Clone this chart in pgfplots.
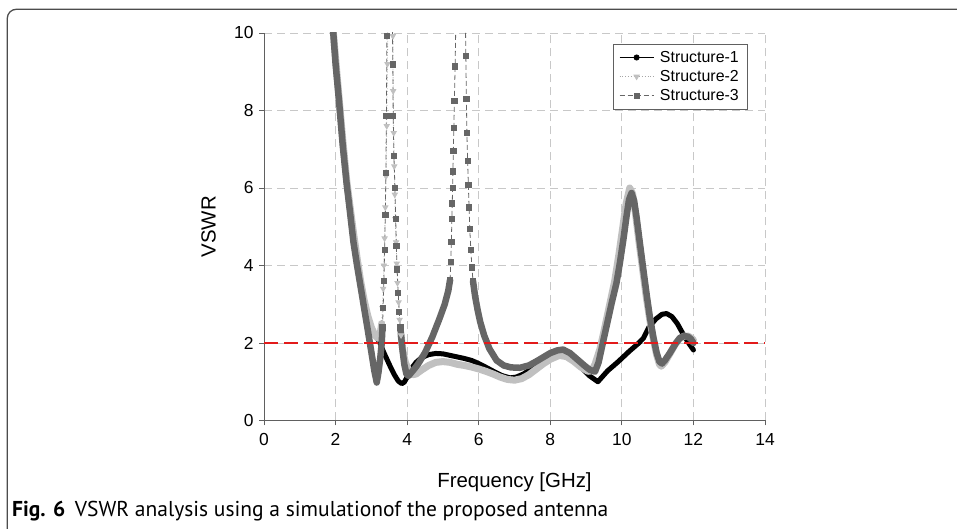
\documentclass[border=0pt]{standalone}
\usepackage{pgfplots}
\pgfplotsset{compat=1.18}
\usepackage{fontspec}
\setmainfont{Liberation Sans}
\newfontfamily\capfont{PT Sans}

\definecolor{dgray}{HTML}{666666}
\definecolor{lgray}{HTML}{C0C0C0}
\definecolor{axgray}{HTML}{606060}
\definecolor{gridgray}{HTML}{C8C8C8}
\definecolor{vred}{HTML}{E21B1B}

\begin{document}
\begin{tikzpicture}[x=1bp,y=1bp]
\useasboundingbox (0,0) rectangle (957,529);
\draw[line width=1.3bp, black!70, rounded corners=9bp] (7.3,-5) -- (7.3,519.7) -- (965,519.7);
\node[anchor=base west, inner sep=0pt] at (12,12)
  {\capfont\fontsize{21.6}{25}\selectfont\textbf{Fig. 6}\hspace{0.45em}VSWR analysis using a simulationof the proposed antenna};

\begin{axis}[
  at={(264bp,108.5bp)}, anchor=south west,
  scale only axis, width=501bp, height=387.5bp,
  xmin=0, xmax=14, ymin=0, ymax=10,
  xtick={0,2,...,14}, ytick={0,2,...,10},
  axis x line*=bottom, axis y line*=left,
  axis line style={axgray, line width=0.9bp},
  tick style={axgray, line width=0.9bp},
  tick align=outside, major tick length=5bp,
  xmajorgrids, ymajorgrids,
  major grid style={gridgray, line width=0.9bp, dash pattern=on 8bp off 5bp},
  ticklabel style={font=\fontsize{17.5}{19}\selectfont},
  xticklabel style={yshift=-4bp},
  yticklabel style={xshift=-2bp},
  /pgf/number format/assume math mode=true,
  xlabel={Frequency [GHz]}, ylabel={VSWR},
  label style={font=\fontsize{20.5}{24}\selectfont},
  xlabel style={at={(axis description cs:0.5,-0.1587)}, anchor=center},
  ylabel style={at={(axis description cs:-0.1108,0.5)}, anchor=center},
  legend style={at={(axis description cs:0.6966,0.9716)}, anchor=north west,
    draw=axgray, font=\fontsize{16}{18}\selectfont, row sep=2.5bp,
    inner xsep=6bp, inner ysep=5bp, column sep=4bp},
  legend cell align=left,
  legend image code/.code={\draw[mark repeat=2,mark phase=2,#1] plot coordinates {(0bp,0bp)(17bp,0bp)(34bp,0bp)};},
]
\addlegendimage{black, line width=0.8bp, mark=*, mark size=2.6bp}
\addlegendentry{Structure-1}
\addlegendimage{black!35, line width=0.8bp, dotted, mark=triangle*, mark size=3bp, mark options={solid, rotate=180, fill=lgray, draw=lgray}}
\addlegendentry{Structure-2}
\addlegendimage{dgray, line width=0.8bp, dash pattern=on 5bp off 3bp, mark=square*, mark size=2.6bp, mark options={solid, fill=dgray}}
\addlegendentry{Structure-3}

% Structure-1
\addplot[black, line width=5bp, line join=round, line cap=round, forget plot] coordinates {
(1.92,10.2)(2.00,9.3)(2.10,8.25)(2.20,7.15)(2.31,6.15)(2.40,5.45)(2.50,4.75)(2.60,4.1)
(2.70,3.55)(2.80,3.05)(2.93,2.6)(3.05,2.3)(3.15,2.15)(3.24,2.0)(3.35,1.75)(3.45,1.55)
(3.55,1.35)(3.65,1.17)(3.75,1.02)(3.85,0.95)(3.92,0.99)(4.00,1.12)(4.10,1.32)(4.25,1.5)
(4.40,1.62)(4.60,1.7)(4.80,1.73)(5.00,1.72)(5.20,1.68)(5.40,1.64)(5.60,1.6)(5.80,1.55)
(6.00,1.47)(6.23,1.36)(6.45,1.25)(6.65,1.16)(6.87,1.1)(7.05,1.12)(7.25,1.2)(7.45,1.32)
(7.65,1.45)(7.85,1.56)(8.05,1.65)(8.30,1.7)(8.50,1.65)(8.70,1.5)(8.90,1.33)(9.10,1.15)
(9.33,1.0)(9.60,1.28)(9.90,1.52)(10.20,1.78)(10.45,1.98)(10.60,2.12)(10.75,2.4)(10.95,2.62)
(11.12,2.74)(11.25,2.76)(11.40,2.68)(11.55,2.5)(11.70,2.25)(11.85,2.02)(12.00,1.82)
};

% Structure-2
\addplot[lgray, line width=7bp, line join=round, line cap=round, forget plot] coordinates {
(1.92,10.2)(2.00,9.35)(2.10,8.3)(2.20,7.25)(2.31,6.2)(2.40,5.55)(2.50,4.85)(2.60,4.2)
(2.70,3.6)(2.80,3.1)(2.90,2.7)(3.00,2.4)(3.10,2.2)(3.18,2.12)(3.24,2.2)(3.29,2.5)
};
\addplot[black!35, line width=0.8bp, dotted, mark=triangle*, mark size=3bp,
  mark options={solid, rotate=180, fill=lgray, draw=lgray}, forget plot] coordinates {
(3.29,2.5)(3.31,2.9)(3.33,3.4)(3.35,4.0)(3.37,4.7)(3.39,5.5)(3.41,6.3)(3.43,7.6)
(3.45,9.2)(3.47,11)(3.53,14)(3.59,11.2)(3.60,9.92)(3.61,8.5)(3.625,7.42)(3.64,6.56)
(3.655,5.83)(3.67,5.2)(3.69,4.6)(3.71,4.05)(3.73,3.55)(3.76,3.05)(3.79,2.6)(3.83,2.2)
};
\addplot[lgray, line width=7bp, line join=round, line cap=round, forget plot] coordinates {
(3.83,2.2)(3.88,1.8)(3.95,1.5)(4.05,1.28)(4.15,1.18)(4.25,1.2)(4.40,1.3)(4.60,1.42)
(4.80,1.5)(5.00,1.52)(5.20,1.5)(5.40,1.45)(5.60,1.42)(5.80,1.38)(6.00,1.33)(6.20,1.27)
(6.40,1.2)(6.60,1.12)(6.80,1.06)(7.00,1.04)(7.20,1.08)(7.40,1.18)(7.60,1.32)(7.80,1.46)
(8.00,1.58)(8.25,1.68)(8.45,1.65)(8.65,1.53)(8.85,1.38)(9.05,1.27)(9.15,1.28)(9.25,1.45)
(9.39,1.85)(9.50,2.3)(9.65,2.95)(9.80,3.6)(9.92,4.3)(10.02,4.95)(10.12,5.6)(10.22,6.0)
(10.30,5.85)(10.38,5.35)(10.48,4.6)(10.58,3.9)(10.68,3.2)(10.78,2.6)(10.88,2.1)(10.97,1.7)
(11.05,1.45)(11.10,1.4)(11.20,1.5)(11.34,1.72)(11.50,1.98)(11.62,2.12)(11.75,2.18)(11.85,2.18)
(11.95,2.12)(12.00,2.08)
};

% Structure-3
\addplot[dgray, line width=6.5bp, line join=round, line cap=round, forget plot] coordinates {
(1.92,10.2)(2.00,9.2)(2.10,8.2)(2.20,7.1)(2.31,6.1)(2.40,5.4)(2.50,4.6)(2.60,4.0)
(2.70,3.45)(2.78,3.0)(2.87,2.5)(2.95,2.05)(3.02,1.65)(3.08,1.3)(3.15,0.98)(3.20,1.25)
(3.25,1.62)(3.29,2.0)(3.31,2.4)
};
\addplot[dgray, line width=0.8bp, dash pattern=on 5bp off 3bp, mark=square*, mark size=2.6bp,
  mark options={solid, fill=dgray}, forget plot] coordinates {
(3.31,2.4)(3.33,2.9)(3.35,3.6)(3.37,4.4)(3.39,5.3)(3.405,6.39)(3.42,7.85)(3.435,9.92)
(3.45,12)(3.52,15)(3.58,11)(3.60,9.19)(3.61,7.85)(3.63,6.82)(3.66,6.0)(3.68,5.2)
(3.70,4.5)(3.72,3.9)(3.75,3.3)(3.78,2.8)(3.81,2.4)
};
\addplot[dgray, line width=6.5bp, line join=round, line cap=round, forget plot] coordinates {
(3.81,2.4)(3.86,1.9)(3.92,1.45)(3.98,1.2)(4.04,1.15)(4.10,1.22)(4.20,1.33)(4.30,1.45)
(4.50,1.75)(4.70,2.15)(4.90,2.62)(5.05,3.0)(5.15,3.35)(5.20,3.63)
};
\addplot[dgray, line width=0.8bp, dash pattern=on 5bp off 3bp, mark=square*, mark size=2.6bp,
  mark options={solid, fill=dgray}, forget plot] coordinates {
(5.20,3.63)(5.22,4.1)(5.235,4.6)(5.25,5.2)(5.26,5.6)(5.27,6.0)(5.28,6.43)(5.29,6.95)
(5.305,7.55)(5.32,8.24)(5.34,9.14)(5.36,10.2)(5.38,11.5)(5.50,16)(5.62,11)(5.64,9.4)
(5.655,8.3)(5.67,7.42)(5.69,6.69)(5.71,6.09)(5.73,5.5)(5.75,4.95)(5.78,4.4)(5.81,3.95)
(5.84,3.6)
};
\addplot[dgray, line width=6.5bp, line join=round, line cap=round, forget plot] coordinates {
(5.84,3.6)(5.90,3.2)(5.97,2.85)(6.04,2.55)(6.15,2.2)(6.30,1.85)(6.50,1.55)(6.70,1.42)
(6.90,1.37)(7.15,1.36)(7.40,1.42)(7.60,1.52)(7.80,1.63)(8.00,1.74)(8.20,1.81)(8.36,1.83)
(8.55,1.74)(8.75,1.58)(8.95,1.42)(9.10,1.31)(9.25,1.26)(9.35,1.5)(9.48,2.05)(9.60,2.55)
(9.72,3.05)(9.85,3.55)(9.95,4.1)(10.05,4.72)(10.13,5.27)(10.20,5.7)(10.27,5.87)(10.34,5.68)
(10.41,5.25)(10.50,4.6)(10.60,3.89)(10.70,3.2)(10.78,2.68)(10.88,2.15)(10.97,1.75)(11.05,1.52)
(11.12,1.47)(11.20,1.55)(11.34,1.74)(11.50,1.98)(11.62,2.13)(11.75,2.18)(11.85,2.16)(11.93,2.1)
(12.00,2.0)
};

% reference line VSWR = 2
\addplot[vred, line width=2.8bp, dash pattern=on 14bp off 6bp, forget plot] coordinates {(0,2) (14,2)};
\end{axis}
\end{tikzpicture}
\end{document}
